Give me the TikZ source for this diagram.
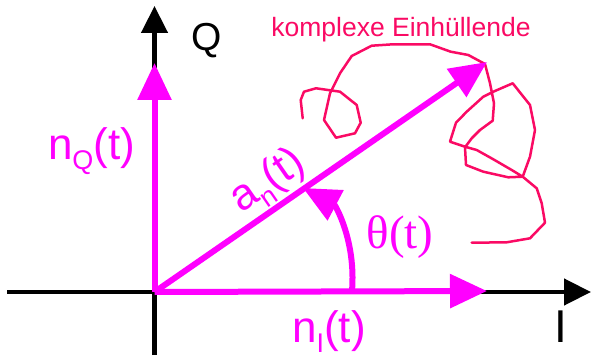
\documentclass[tikz,border=0pt]{standalone}
\usepackage{fontspec}
\setmainfont{Liberation Sans}
\newfontfamily\thetafont{Liberation Serif}
\usetikzlibrary{arrows.meta}
\definecolor{zeigerfarbe}{RGB}{255,0,255}
\definecolor{huellfarbe}{RGB}{250,10,100}
\tikzset{
    achse/.style={line width=4.5pt, -{Triangle[length=27pt, width=26pt]}},
    zeiger/.style={line width=6pt, zeigerfarbe, -{Triangle[length=37pt, width=33pt]}},
    zeigertext/.style={zeigerfarbe, font=\fontsize{44}{44}\selectfont, inner sep=0pt, anchor=base},
    achsentext/.style={inner sep=0pt, anchor=base},
}
\newcommand{\subidx}[1]{\raisebox{-10pt}{\fontsize{27}{27}\selectfont #1}}
\begin{document}
\begin{tikzpicture}[x=1pt, y=-1pt]
        \useasboundingbox (0,0) rectangle (591,358);
        % Punkte
        \coordinate (O) at (154.5,292);
        \coordinate (links) at (7,292);
        \coordinate (rechts) at (591,292);
        \coordinate (unten) at (154.5,355);
        \coordinate (oben) at (154.5,6);
        \coordinate (nQspitze) at (154.5,63);
        \coordinate (nIspitze) at (487,291);
        \coordinate (anspitze) at (487,62);
        \coordinate (thstart) at (352,291);
        \coordinate (thende) at (303,188);
        % Achsen
        \draw[achse] (links) -- (rechts);
        \draw[achse] (unten) -- (oben);
        \node[achsentext, font=\fontsize{39}{39}\selectfont] (Qlab) at (207,51) {Q};
        \node[achsentext, font=\fontsize{46}{46}\selectfont] (Ilab) at (560.5,342) {I};
        % Komplexe Einhuellende
        \draw[huellfarbe, line width=2.5pt, line join=round, line cap=round]
            (302.7,118.3) -- (300.7,100) -- (304,91.7) -- (316,88.3) -- (340,91.7)
            -- (356.7,105) -- (360.7,122.7) -- (355,133.3) -- (336,137.7) -- (324,120)
            -- (330,93.3) -- (340,73.3) -- (351.7,56) -- (371.7,45.7) -- (393,44.3)
            -- (430,44.3) -- (450.7,51.7) -- (468.3,55) -- (485,64) -- (490,83.3)
            -- (494,103.3) -- (492.7,120.7) -- (480,130) -- (471.7,138.3) -- (465,147.3)
            -- (466,165) -- (483.3,171.7) -- (508.3,177.3) -- (522.7,176.7) -- (530,156.7)
            -- (535,130) -- (530,105) -- (512.7,83.3) -- (493.3,91.7) -- (483.3,96.7)
            -- (466.7,111.7) -- (456,122.7) -- (450,141.7) -- (465,146.7) -- (476.7,150)
            -- (493.3,159.3) -- (511.7,170) -- (522.7,176.7) -- (536.7,188.3) -- (541.7,203.3)
            -- (545,222.7) -- (530,238.3) -- (506.7,242.3) -- (471.7,242.7);
        \node[huellfarbe, inner sep=0pt, anchor=base, font=\fontsize{26.5}{26.5}\selectfont] (huelllab) at (401,36.7) {komplexe Einhüllende};
        % Zeiger
        \draw[zeiger] (O) -- (nQspitze);
        \draw[zeiger] (O) -- (nIspitze);
        \draw[zeiger] (O) -- (anspitze);
        \draw[zeiger] (thstart) .. controls (356,240) and (335,205) .. (thende);
        \node[zeigertext] (nQlab) at (91.5,160) {n\subidx{Q}(t)};
        \node[zeigertext] (nIlab) at (329,342) {n\subidx{I}(t)};
        \node[zeigertext, rotate=34.7] (anlab) at (274.7,190.9) {a\subidx{n}(t)};
        \node[zeigertext, font=\thetafont\fontsize{47}{47}\selectfont] (thlab) at (400,248) {θ(t)};
    \end{tikzpicture}
\end{document}
